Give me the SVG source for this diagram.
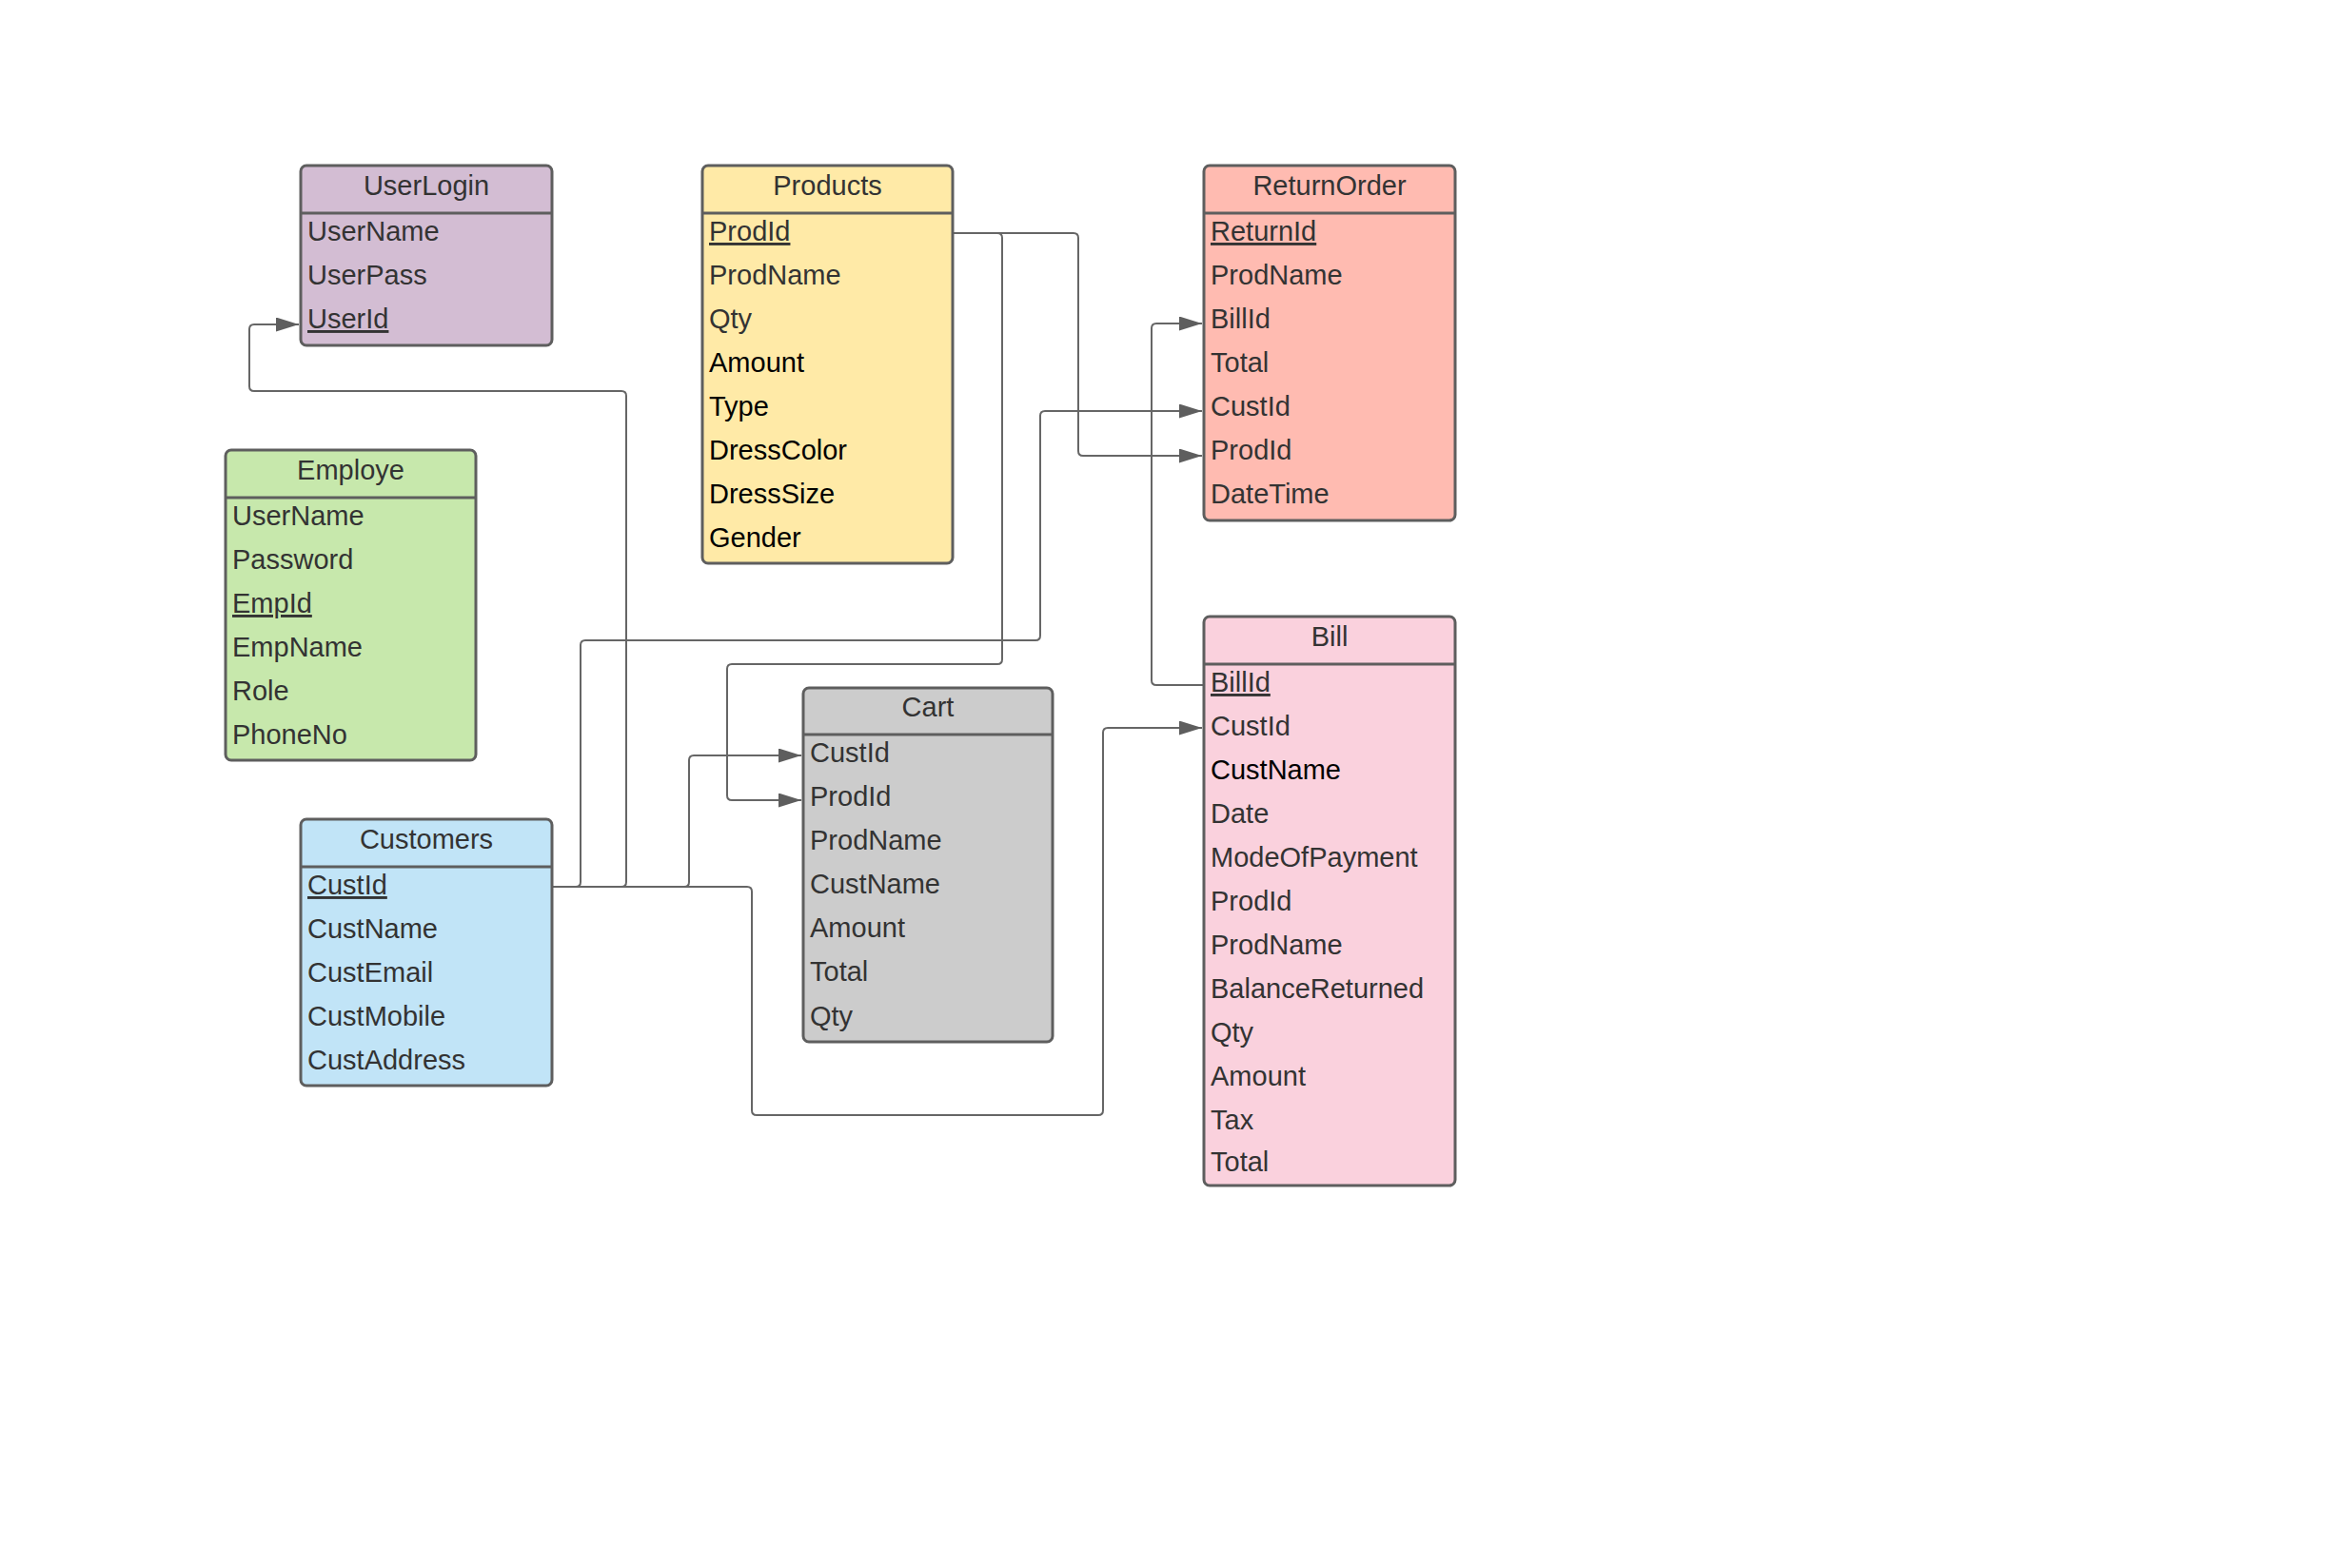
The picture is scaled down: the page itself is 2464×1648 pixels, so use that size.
<svg xmlns="http://www.w3.org/2000/svg" width="2464" height="1648" viewBox="0 0 2464 1648">
<style>
.box{stroke:#5e5e5e;stroke-width:3}
.hdr{stroke:#5e5e5e;stroke-width:3;fill:none}
text{font-family:"Liberation Sans",Arial,sans-serif;font-size:29px;fill:#333333}
.t{text-anchor:middle}
.k{text-decoration:underline}
.b{fill:#000000}
.conn path{fill:none;stroke:#666666;stroke-width:2;marker-end:url(#arr)}
.conn path.nm{marker-end:none}
</style>
<defs>
<marker id="arr" markerUnits="userSpaceOnUse" markerWidth="24" markerHeight="15" refX="24" refY="7.5" orient="auto">
<path d="M0,0 L24,7.5 L0,15 Z" fill="#5e5e5e"/>
</marker>
</defs>
<rect x="0" y="0" width="2464" height="1648" fill="#ffffff"/>

<g id="connectors" class="conn">
<path d="M580,932 H605 Q610,932 610,927 V678 Q610,673 615,673 H1088 Q1093,673 1093,668 V437 Q1093,432 1098,432 H1263"/>
<path d="M580,932 H653 Q658,932 658,927 V416 Q658,411 653,411 H267 Q262,411 262,406 V346 Q262,341 267,341 H314"/>
<path d="M580,932 H719 Q724,932 724,927 V799 Q724,794 729,794 H842"/>
<path d="M580,932 H785 Q790,932 790,937 V1167 Q790,1172 795,1172 H1154 Q1159,1172 1159,1167 V770 Q1159,765 1164,765 H1263"/>
<path d="M1001,245 H1048 Q1053,245 1053,250 V693 Q1053,698 1048,698 H769 Q764,698 764,703 V836 Q764,841 769,841 H842"/>
<path d="M1001,245 H1128 Q1133,245 1133,250 V474 Q1133,479 1138,479 H1263"/>
<path d="M1265,720 H1215 Q1210,720 1210,715 V345 Q1210,340 1215,340 H1263"/>
</g>

<g id="UserLogin">
<rect class="box" x="316" y="174" width="264" height="189" rx="6" fill="#d3bdd3"/>
<line class="hdr" x1="316" y1="224" x2="580" y2="224"/>
<text class="t" x="448" y="205">UserLogin</text>
<text x="323" y="253">UserName</text>
<text x="323" y="299">UserPass</text>
<text class="k" x="323" y="345">UserId</text>
</g>

<g id="Products">
<rect class="box" x="738" y="174" width="263" height="418" rx="6" fill="#ffeaa7"/>
<line class="hdr" x1="738" y1="224" x2="1001" y2="224"/>
<text class="t" x="869.5" y="205">Products</text>
<text class="k" x="745" y="253">ProdId</text>
<text x="745" y="299">ProdName</text>
<text x="745" y="345">Qty</text>
<text class="b" x="745" y="391">Amount</text>
<text class="b" x="745" y="437">Type</text>
<text class="b" x="745" y="483">DressColor</text>
<text class="b" x="745" y="529">DressSize</text>
<text class="b" x="745" y="575">Gender</text>
</g>

<g id="ReturnOrder">
<rect class="box" x="1265" y="174" width="264" height="373" rx="6" fill="#ffbbb1"/>
<line class="hdr" x1="1265" y1="224" x2="1529" y2="224"/>
<text class="t" x="1397" y="205">ReturnOrder</text>
<text class="k" x="1272" y="253">ReturnId</text>
<text x="1272" y="299">ProdName</text>
<text x="1272" y="345">BillId</text>
<text x="1272" y="391">Total</text>
<text x="1272" y="437">CustId</text>
<text x="1272" y="483">ProdId</text>
<text x="1272" y="529">DateTime</text>
</g>

<g id="Employe">
<rect class="box" x="237" y="473" width="263" height="326" rx="6" fill="#c7e8ac"/>
<line class="hdr" x1="237" y1="523" x2="500" y2="523"/>
<text class="t" x="368.5" y="504">Employe</text>
<text x="244" y="552">UserName</text>
<text x="244" y="598">Password</text>
<text class="k" x="244" y="644">EmpId</text>
<text x="244" y="690">EmpName</text>
<text x="244" y="736">Role</text>
<text x="244" y="782">PhoneNo</text>
</g>

<g id="Customers">
<rect class="box" x="316" y="861" width="264" height="280" rx="6" fill="#c1e4f7"/>
<line class="hdr" x1="316" y1="911" x2="580" y2="911"/>
<text class="t" x="448" y="892">Customers</text>
<text class="k" x="323" y="940">CustId</text>
<text x="323" y="986">CustName</text>
<text x="323" y="1032">CustEmail</text>
<text x="323" y="1078">CustMobile</text>
<text x="323" y="1124">CustAddress</text>
</g>

<g id="Cart">
<rect class="box" x="844" y="723" width="262" height="372" rx="6" fill="#cccccc"/>
<line class="hdr" x1="844" y1="772" x2="1106" y2="772"/>
<text class="t" x="975" y="753">Cart</text>
<text x="851" y="801">CustId</text>
<text x="851" y="847">ProdId</text>
<text x="851" y="893">ProdName</text>
<text x="851" y="939">CustName</text>
<text x="851" y="985">Amount</text>
<text x="851" y="1031">Total</text>
<text x="851" y="1078">Qty</text>
</g>

<g id="Bill">
<rect class="box" x="1265" y="648" width="264" height="598" rx="6" fill="#fad1dd"/>
<line class="hdr" x1="1265" y1="698" x2="1529" y2="698"/>
<text class="t" x="1397" y="679">Bill</text>
<text class="k" x="1272" y="727">BillId</text>
<text x="1272" y="773">CustId</text>
<text class="b" x="1272" y="819">CustName</text>
<text x="1272" y="865">Date</text>
<text x="1272" y="911">ModeOfPayment</text>
<text x="1272" y="957">ProdId</text>
<text x="1272" y="1003">ProdName</text>
<text x="1272" y="1049">BalanceReturned</text>
<text x="1272" y="1095">Qty</text>
<text x="1272" y="1141">Amount</text>
<text x="1272" y="1187">Tax</text>
<text x="1272" y="1231">Total</text>
</g>
</svg>
